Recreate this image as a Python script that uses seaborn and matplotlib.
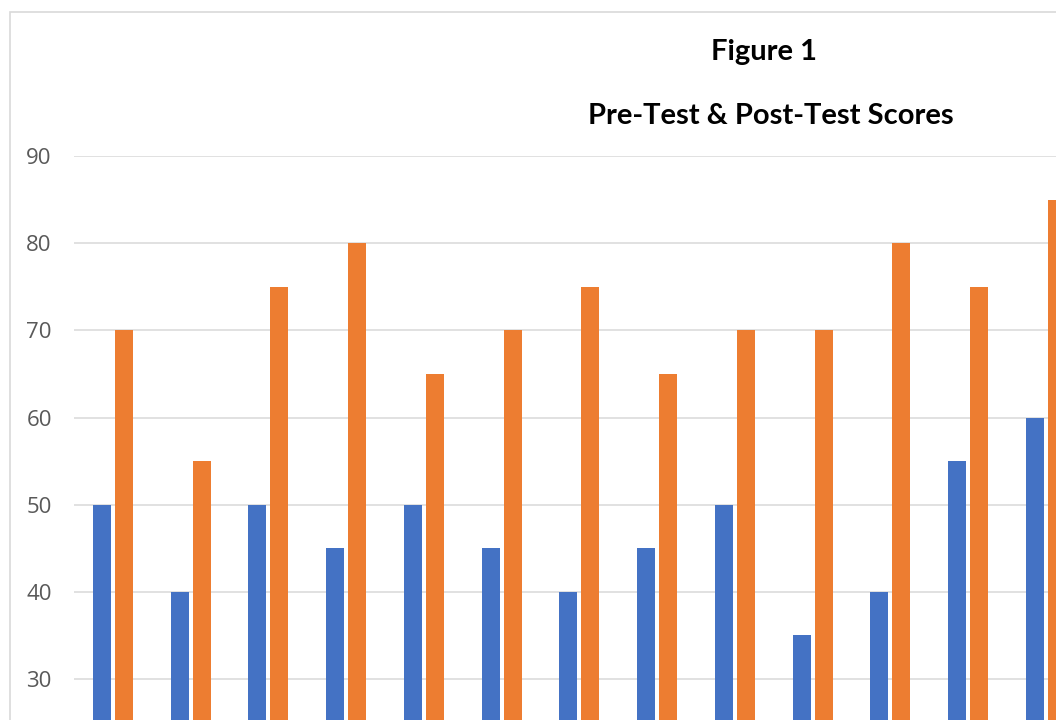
import pandas as pd
import numpy as np
import matplotlib.pyplot as plt
import seaborn as sns

# scores
students = [str(i) for i in range(1, 14)]
pre_test = [50, 40, 50, 45, 50, 45, 40, 45, 50, 35, 40, 55, 60]
post_test = [70, 55, 75, 80, 65, 70, 75, 65, 70, 70, 80, 75, 85]

df = pd.DataFrame({
    'Student': students * 2,
    'Score': pre_test + post_test,
    'Test': ['Pre-Test'] * 13 + ['Post-Test'] * 13,
})

sns.set_style('white')
plt.rcParams['font.family'] = ['Open Sans', 'DejaVu Sans']

fig = plt.figure(figsize=(10.56, 7.2), dpi=100)
ax = fig.add_axes([74 / 1056, 0, 13 * 77.75 / 1056, (720 - 156) / 720])

sns.barplot(data=df, x='Student', y='Score', hue='Test',
            hue_order=['Pre-Test', 'Post-Test'],
            palette=['#4472C4', '#ED7D31'], saturation=1,
            width=0.566, gap=0.18, legend=False, ax=ax, zorder=3,
            linewidth=0, edgecolor='none')

ax.set_xlim(-0.5, 12.5)
ax.set_ylim(25.3, 90)
ax.set_yticks(range(30, 91, 10))
ax.yaxis.grid(True, color='#D9D9D9', linewidth=1.1, zorder=0)
ax.set_axisbelow(True)
for s in ax.spines.values():
    s.set_visible(False)
ax.tick_params(axis='y', length=0, pad=16, labelsize=16, labelcolor='#595959')
ax.tick_params(axis='x', length=0, labelbottom=False)
ax.set_xlabel('')
ax.set_ylabel('')

# chart border
fig.add_artist(plt.Rectangle((10 / 1056, -0.5), 1.5, 1 - 12 / 720 + 0.5,
                             transform=fig.transFigure, fill=False,
                             edgecolor='#D9D9D9', linewidth=1.2))

fig.text(764 / 1056, 1 - 52 / 720, 'Figure 1', ha='center', va='center',
         fontsize=21, fontweight='bold', family='Lato', color='black')
fig.text(771 / 1056, 1 - 116 / 720, 'Pre-Test & Post-Test Scores', ha='center',
         va='center', fontsize=21, fontweight='bold', family='Lato', color='black')

fig.savefig('out.png', dpi=100)
